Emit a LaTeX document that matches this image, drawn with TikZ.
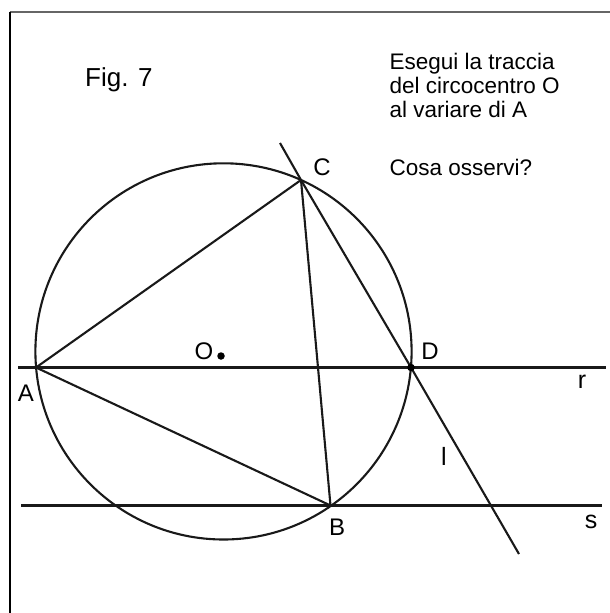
\documentclass[tikz,border=0pt]{standalone}
\usepackage{fontspec}
\setmainfont{Liberation Sans}
\begin{document}
\begin{tikzpicture}[x=1pt,y=-1pt,
  geo/.style={line width=2.1pt,black!90},
  lbl/.style={inner sep=0pt,font=\fontsize{24}{27}\selectfont},
  txt/.style={inner sep=0pt,anchor=base west,font=\fontsize{22.5}{24}\selectfont},
  dotpt/.style={fill=black,circle,inner sep=0pt,minimum size=7.5pt}]
\useasboundingbox (0,0) rectangle (610,613);
% frame
\coordinate (fTL) at (9.5,11.7);
\coordinate (fTR) at (610,11.7);
\coordinate (fBL) at (9.5,613);
\draw[line width=2pt,black!60] (fTL) -- (fTR);
\draw[line width=2pt,black] (fTL) -- (fBL);
% points
\coordinate (A) at (36,367.5);
\coordinate (D) at (411,367.5);
\coordinate (C) at (301,180);
\coordinate (B) at (330.5,505.5);
\coordinate (Oc) at (223.5,351.4);
% lines r and s
\coordinate (r1) at (18,367.5);
\coordinate (r2) at (606,367.5);
\coordinate (s1) at (21,505.5);
\coordinate (s2) at (602,505.5);
\draw[geo] (r1) -- (r2);
\draw[geo] (s1) -- (s2);
% line l
\coordinate (l1) at (280,143);
\coordinate (l2) at (519,554);
\draw[geo] (l1) -- (C) -- (D) -- (l2);
% circle
\draw[geo] (Oc) circle[radius=188.1];
% triangle
\draw[geo,line join=round] (A) -- (C) -- (B) -- cycle;
% dots
\node[dotpt] (Odot) at (221,356) {};
\node[dotpt] (Ddot) at (D) {};
% labels
\node[lbl] (Alab) at (26,393) {A};
\node[lbl] (Blab) at (337,527) {B};
\node[lbl] (Clab) at (322,167) {C};
\node[lbl] (Dlab) at (430,351) {D};
\node[lbl] (Olab) at (204,351) {O};
\node[lbl,font=\fontsize{25}{28}\selectfont] (rlab) at (582,382) {r};
\node[lbl,font=\fontsize{25}{28}\selectfont] (slab) at (591,522) {s};
\node[lbl,font=\fontsize{25}{28}\selectfont] (llab) at (444,456) {l};
% texts
\node[txt,font=\fontsize{26}{28}\selectfont] (fig) at (85,86.7) {Fig. 7};
\node[txt] (t1) at (389.5,69) {Esegui la traccia};
\node[txt] (t2) at (389.5,93) {del circocentro O};
\node[txt] (t3) at (389.5,117.5) {al variare di A};
\node[txt] (t4) at (389.5,175) {Cosa osservi?};
\end{tikzpicture}
\end{document}
